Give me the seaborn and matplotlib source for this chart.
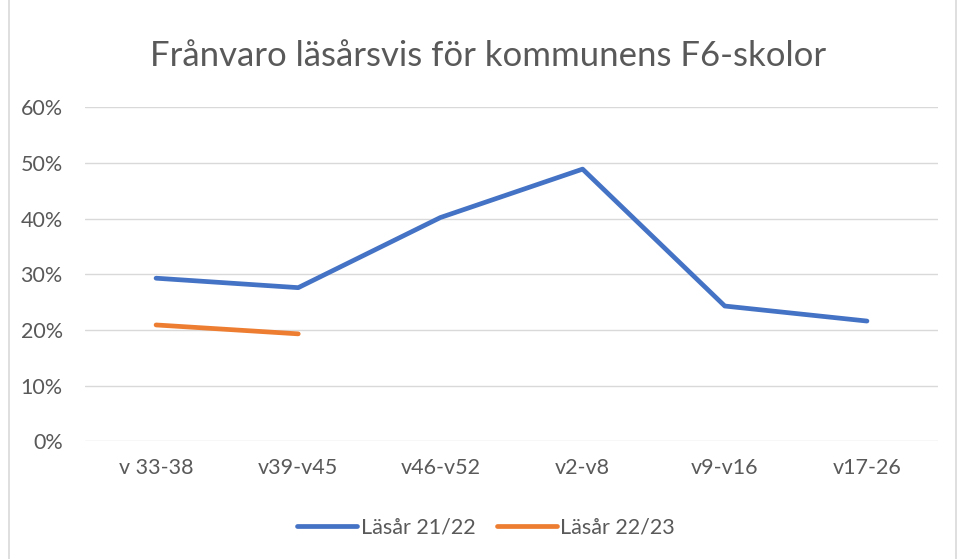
import numpy as np
import pandas as pd
import matplotlib
matplotlib.use("Agg")
import matplotlib.pyplot as plt
import seaborn as sns
from matplotlib.patches import Rectangle
from matplotlib.lines import Line2D

perioder = ["v 33-38", "v39-v45", "v46-v52", "v2-v8", "v9-v16", "v17-26"]
las_21_22 = [0.293, 0.276, 0.402, 0.489, 0.243, 0.216]
las_22_23 = [0.209, 0.193, np.nan, np.nan, np.nan, np.nan]

df = pd.DataFrame({
    "Period": perioder * 2,
    "Frånvaro": las_21_22 + las_22_23,
    "Serie": ["Läsår 21/22"] * 6 + ["Läsår 22/23"] * 6,
})
df = df.dropna()
df["x"] = df["Period"].map({p: i for i, p in enumerate(perioder)})

sns.set_style("white")
plt.rcParams["font.family"] = ["Lato", "DejaVu Sans"]

fig = plt.figure(figsize=(9.57, 5.59), dpi=100)
ax = fig.add_axes([0.0888, 0.2106, 0.8914, 0.5974])

sns.lineplot(data=df, x="x", y="Frånvaro", hue="Serie",
             palette=["#4472C4", "#ED7D31"], linewidth=3.4, ax=ax,
             legend=False, solid_capstyle="round")

ax.set_xlim(-0.5, 5.5)
ax.set_ylim(0, 0.6)
ax.set_yticks(np.arange(0, 0.61, 0.1))
ax.set_yticklabels([f"{int(round(v * 100))}%" for v in np.arange(0, 0.61, 0.1)])
ax.set_xticks(range(len(perioder)))
ax.set_xticklabels(perioder)
ax.grid(axis="y", color="#D9D9D9", linewidth=1)
ax.set_axisbelow(True)
for s in ax.spines.values():
    s.set_visible(False)
ax.tick_params(axis="both", length=0, labelsize=15.5, colors="#595959")
ax.tick_params(axis="x", pad=12)
ax.tick_params(axis="y", pad=16)
ax.set_xlabel("")
ax.set_ylabel("")

fig.text(0.5105, 0.9, "Frånvaro läsårsvis för kommunens F6-skolor",
         ha="center", va="center", fontsize=25, color="#595959")

handles = [Line2D([], [], color="#4472C4", lw=3.4, solid_capstyle="round"),
           Line2D([], [], color="#ED7D31", lw=3.4, solid_capstyle="round")]
fig.legend(handles, ["Läsår 21/22", "Läsår 22/23"], loc="center",
           bbox_to_anchor=(0.508, 0.057), ncol=2, frameon=False,
           fontsize=15.5, labelcolor="#595959", handlelength=2.8,
           handletextpad=0.15, columnspacing=1.0)

fig.patches.append(Rectangle((0.009, -0.01), 0.99, 1.02, transform=fig.transFigure,
                             fill=False, edgecolor="#D9D9D9", linewidth=1.2))

fig.savefig("out.png", dpi=100, facecolor="white")
